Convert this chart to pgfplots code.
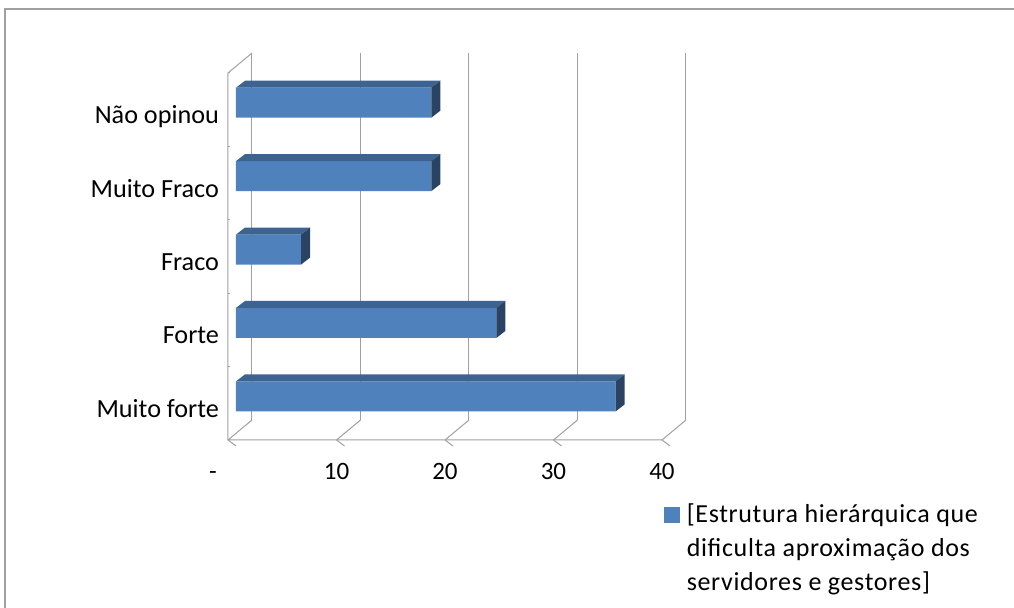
\documentclass[border=0pt]{standalone}
\usepackage{pgfplots}
\pgfplotsset{compat=1.18}
\usepackage{pgfplotstable}
\usepackage{fontspec}
\setmainfont{Carlito}
\newfontfamily\legendfont[LetterSpace=2.5]{Carlito}
\definecolor{barblue}{HTML}{4F81BD}
\definecolor{bartop}{HTML}{3D6391}
\definecolor{barside}{HTML}{2A4362}
\definecolor{framegray}{HTML}{A0A0A0}
\pgfplotstableread{
k v
0 35
1 24
2 6
3 18
4 18
}\data
\begin{document}
\begin{tikzpicture}
\begin{axis}[
  x=5.425pt, y=36.7pt,
  xmin=-0.737, xmax=41.475, ymin=0, ymax=5.272,
  clip=false,
  axis line style={draw=none},
  major tick length=0pt,
  tick style={draw=none},
  xtick={-0.737,9.263,19.263,29.263,39.263},
  xticklabels={{\makebox[0pt][r]{-\hspace{5.6pt}}},10,20,30,40},
  ytick={0.3985,1.3985,2.3985,3.3985,4.3985},
  yticklabels={Muito forte,Forte,Fraco,Muito Fraco,Não opinou},
  /pgf/number format/assume math mode=true,
  tick label style={text=black},
  xticklabel style={font=\fontsize{12.5}{15}\selectfont, text height=8pt, text depth=0pt, yshift=-8pt},
  yticklabel style={font=\fontsize{13.1}{15}\selectfont, anchor=east, text height=9.2pt, text depth=2.6pt, xshift=-1pt},
  legend style={at={(0.952,-0.1525)}, anchor=north west, draw=none, fill=none,
    inner sep=0pt, outer sep=0pt, nodes={inner sep=0pt}, column sep=3.5pt,
    font=\legendfont\fontsize{13}{17}\selectfont},
  legend cell align=left,
]
\coordinate (O) at (axis cs:-0.737,0);
% frame: back wall gridlines
\draw[framegray, line width=0.5pt] (axis cs:1.475,0.272) -- (axis cs:1.475,5.272);
\draw[framegray, line width=0.5pt] (axis cs:11.475,0.272) -- (axis cs:11.475,5.272);
\draw[framegray, line width=0.5pt] (axis cs:21.475,0.272) -- (axis cs:21.475,5.272);
\draw[framegray, line width=0.5pt] (axis cs:31.475,0.272) -- (axis cs:31.475,5.272);
\draw[framegray, line width=0.5pt] (axis cs:41.475,0.272) -- (axis cs:41.475,5.272);
% floor diagonals
\draw[framegray, line width=0.5pt] (axis cs:-0.737,0) -- (axis cs:1.475,0.272);
\draw[framegray, line width=0.5pt] (axis cs:9.263,0) -- (axis cs:11.475,0.272);
\draw[framegray, line width=0.5pt] (axis cs:19.263,0) -- (axis cs:21.475,0.272);
\draw[framegray, line width=0.5pt] (axis cs:29.263,0) -- (axis cs:31.475,0.272);
\draw[framegray, line width=0.5pt] (axis cs:39.263,0) -- (axis cs:41.475,0.272);
% front floor and left wall
\draw[framegray, line width=0.5pt] (axis cs:39.263,0) -- (axis cs:-0.737,0) -- (axis cs:-0.737,5) -- (axis cs:1.475,5.272);
% x ticks
\draw[framegray, line width=0.5pt] (axis cs:-0.737,0) -- ++(0,-3pt);
\draw[framegray, line width=0.5pt] (axis cs:9.263,0) -- ++(0,-3pt);
\draw[framegray, line width=0.5pt] (axis cs:19.263,0) -- ++(0,-3pt);
\draw[framegray, line width=0.5pt] (axis cs:29.263,0) -- ++(0,-3pt);
\draw[framegray, line width=0.5pt] (axis cs:39.263,0) -- ++(0,-3pt);
% y ticks
\draw[framegray, line width=0.5pt] (axis cs:-0.737,0) -- ++(-3pt,0);
\draw[framegray, line width=0.5pt] (axis cs:-0.737,1) -- ++(-3pt,0);
\draw[framegray, line width=0.5pt] (axis cs:-0.737,2) -- ++(-3pt,0);
\draw[framegray, line width=0.5pt] (axis cs:-0.737,3) -- ++(-3pt,0);
\draw[framegray, line width=0.5pt] (axis cs:-0.737,4) -- ++(-3pt,0);
\draw[framegray, line width=0.5pt] (axis cs:-0.737,5) -- ++(-3pt,0);
% front faces
\addplot[xbar, bar width=15pt, bar shift=0pt, fill=barblue, draw=none, forget plot]
  table[x=v, y expr=\thisrow{k}+0.595] {\data};
% top and side faces
\addplot[forget plot, scatter, only marks, mark=*, mark size=0pt,
  mark options={draw=none, fill=none},
  visualization depends on={\thisrow{v} \as \barlen},
  scatter/@pre marker code/.code={%
    \pgfmathsetmacro\La{4.5-(\barlen)*5.425}%
    \pgfmathsetmacro\Lb{-(\barlen)*5.425}%
    \pgfscope
    \pgfsetfillcolor{bartop}%
    \pgfpathmoveto{\pgfqpoint{0pt}{0pt}}%
    \pgfpathlineto{\pgfqpoint{4.5pt}{3.5pt}}%
    \pgfpathlineto{\pgfqpoint{\La pt}{3.5pt}}%
    \pgfpathlineto{\pgfqpoint{\Lb pt}{0pt}}%
    \pgfpathclose
    \pgfusepath{fill}%
    \pgfsetfillcolor{barside}%
    \pgfpathmoveto{\pgfqpoint{0pt}{0pt}}%
    \pgfpathlineto{\pgfqpoint{4.5pt}{3.5pt}}%
    \pgfpathlineto{\pgfqpoint{4.5pt}{-11.5pt}}%
    \pgfpathlineto{\pgfqpoint{0pt}{-15pt}}%
    \pgfpathclose
    \pgfusepath{fill}%
    \endpgfscope
  },
  scatter/@post marker code/.code={},
] table[x=v, y expr=\thisrow{k}+0.799] {\data};
\addlegendimage{legend image code/.code={\fill[barblue] (0pt,-5pt) rectangle (7.5pt,2.5pt);}}
\addlegendentry{\begin{tabular}[t]{@{}l@{}}[Estrutura hierárquica que\\dificulta aproximação dos\\servidores e gestores]\end{tabular}}
\end{axis}
\pgfresetboundingbox
\useasboundingbox ([shift={(-114pt,-84pt)}]O) rectangle ([shift={(393pt,220pt)}]O);
\draw[framegray, line width=0.75pt] ([shift={(-111.5pt,-90pt)}]O) rectangle ([shift={(400pt,215.5pt)}]O);
\end{tikzpicture}
\end{document}
